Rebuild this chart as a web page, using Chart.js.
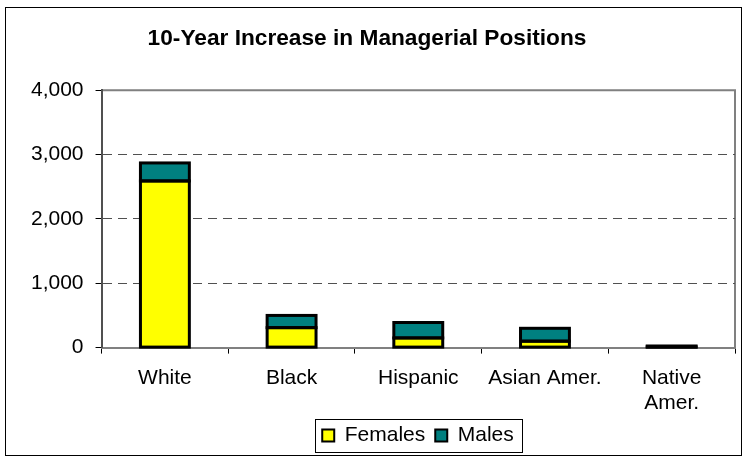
<!DOCTYPE html>
<html>
<head>
<meta charset="utf-8">
<script src="https://cdn.jsdelivr.net/npm/chart.js@4/dist/chart.umd.min.js"></script>
<style>
html,body{margin:0;padding:0;background:#fff;}
#wrap{width:749px;height:464px;position:relative;}
</style>
</head>
<body>
<div id="wrap"><canvas id="c" width="749" height="464"></canvas></div>
<script>
const categories = ["White", "Black", "Hispanic", "Asian Amer.", ["Native", "Amer."]];
const females = [2590, 310, 150, 100, 10];
const males = [280, 190, 240, 200, 15];
const yTicks = [0, 1000, 2000, 3000, 4000];

const frame = {
  id: 'frame',
  afterLayout(chart) {
    if (chart.titleBlock) { chart.titleBlock.left -= 10; chart.titleBlock.right -= 10; }
    if (chart.legend) { chart.legend.left += 41; chart.legend.right += 41; }
  },
  beforeDraw(chart) {
    const ctx = chart.ctx;
    ctx.save();
    ctx.fillStyle = '#fff';
    ctx.fillRect(0, 0, chart.width, chart.height);
    ctx.strokeStyle = '#000';
    ctx.lineWidth = 1;
    ctx.strokeRect(5.5, 7.5, 736, 448);
    const a = chart.chartArea;
    ctx.strokeStyle = '#808080';
    ctx.lineWidth = 2;
    ctx.beginPath();
    ctx.moveTo(a.left, a.top);
    ctx.lineTo(a.right, a.top);
    ctx.lineTo(a.right, a.bottom);
    ctx.stroke();
    ctx.restore();
  },
  afterDatasetsDraw(chart) {
    const ctx = chart.ctx;
    ctx.save();
    ctx.strokeStyle = '#000';
    ctx.lineWidth = 3;
    ctx.lineJoin = 'miter';
    chart.data.datasets.forEach((ds, i) => {
      const meta = chart.getDatasetMeta(i);
      meta.data.forEach(el => {
        const p = el.getProps(['x', 'y', 'base', 'width'], true);
        const top = Math.min(p.y, p.base), bot = Math.max(p.y, p.base);
        ctx.strokeRect(p.x - p.width / 2, top, p.width, bot - top);
      });
    });
    ctx.restore();
  },
  afterDraw(chart) {
    const lg = chart.legend;
    if (!lg || !lg.legendHitBoxes || !lg.legendHitBoxes.length) return;
    const hb = lg.legendHitBoxes;
    let l = Infinity, r = -Infinity, t = Infinity, b = -Infinity;
    hb.forEach(h => { l = Math.min(l, h.left); r = Math.max(r, h.left + h.width); t = Math.min(t, h.top); b = Math.max(b, h.top + h.height); });
    const ctx = chart.ctx;
    ctx.save();
    ctx.strokeStyle = '#000';
    ctx.lineWidth = 1;
    const x0 = Math.round(l - 7) + 0.5, y0 = Math.round(t - 6) + 0.5;
    const x1 = Math.round(r + 8) + 0.5, y1 = Math.round(b + 6) + 0.5;
    ctx.strokeRect(x0, y0, x1 - x0, y1 - y0);
    ctx.restore();
  }
};

new Chart(document.getElementById('c'), {
  type: 'bar',
  data: {
    labels: categories,
    datasets: [
      { label: 'Females', data: females, backgroundColor: '#FFFF00', borderWidth: 0 },
      { label: 'Males', data: males, backgroundColor: '#008080', borderWidth: 0 }
    ]
  },
  options: {
    responsive: false,
    animation: false,
    devicePixelRatio: 1,
    layout: { padding: { left: 19, right: 14, top: 0, bottom: 8 } },
    datasets: { bar: { barPercentage: 0.386, categoryPercentage: 1.0 } },
    plugins: {
      tooltip: { enabled: false },
      title: {
        display: true,
        text: '10-Year Increase in Managerial Positions',
        color: '#000',
        font: { family: 'Liberation Sans', size: 22.7, weight: 'bold' },
        padding: { top: 25, bottom: 38 }
      },
      legend: {
        position: 'bottom',
        labels: {
          color: '#000',
          font: { family: 'Liberation Sans', size: 21 },
          boxWidth: 12,
          boxHeight: 12,
          padding: 10,
          useBorderRadius: false,
          generateLabels(chart) {
            return chart.data.datasets.map((ds, i) => ({
              text: ds.label,
              fillStyle: ds.backgroundColor,
              strokeStyle: '#000',
              lineWidth: 2,
              hidden: false,
              datasetIndex: i,
              fontColor: '#000'
            }));
          }
        }
      }
    },
    scales: {
      x: {
        stacked: true,
        offset: true,
        afterFit(scale) { scale.height -= 13; },
        grid: { display: true, drawOnChartArea: false, drawTicks: true, tickLength: 6, offset: true, tickColor: '#000', tickWidth: 1 },
        border: { display: true, color: '#808080', width: 2 },
        ticks: { color: '#000', font: { family: 'Liberation Sans', size: 21 }, padding: 12, maxRotation: 0, autoSkip: false }
      },
      y: {
        stacked: true,
        min: 0,
        max: 4000,
        afterBuildTicks(scale) { scale.ticks = yTicks.map(v => ({ value: v })); },
        grid: {
          color: ctx => (ctx.tick && (ctx.tick.value === 0 || ctx.tick.value === 4000)) ? 'rgba(0,0,0,0)' : '#505050',
          lineWidth: 1,
          drawTicks: true,
          tickLength: 6,
          tickColor: '#000',
          tickWidth: 1
        },
        border: { display: true, color: '#505050', width: 2, dash: [9, 6] },
        ticks: {
          color: '#000',
          font: { family: 'Liberation Sans', size: 21 },
          padding: 12,
          callback: v => v.toLocaleString('en-US')
        }
      }
    }
  },
  plugins: [frame]
});
</script>
</body>
</html>
